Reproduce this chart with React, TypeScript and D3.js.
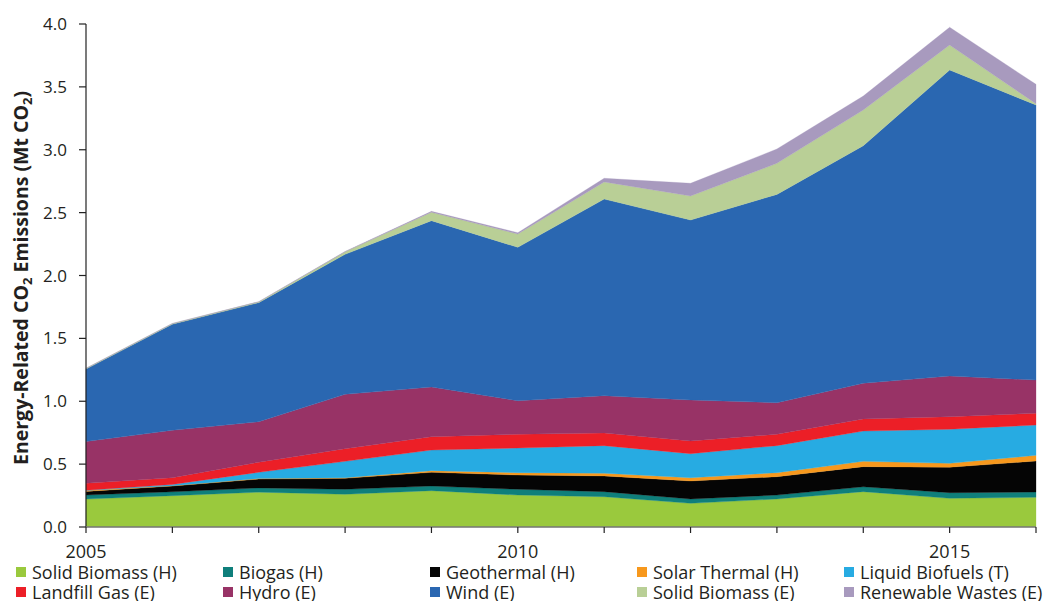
import React from "react";
import * as d3 from "d3";

const years = [2005, 2006, 2007, 2008, 2009, 2010, 2011, 2012, 2013, 2014, 2015, 2016];
const seriesNames = [
  "Solid Biomass (H)", "Biogas (H)", "Geothermal (H)", "Solar Thermal (H)", "Liquid Biofuels (T)",
  "Landfill Gas (E)", "Hydro (E)", "Wind (E)", "Solid Biomass (E)", "Renewable Wastes (E)",
];
const colors = ["#9AC93D", "#0F7F7B", "#050505", "#F7981D", "#27ABE2", "#EC1F27", "#983366", "#2A67B1", "#B9CF96", "#A89ABE"];

const solidBiomassH = [0.222, 0.249, 0.277, 0.26, 0.289, 0.254, 0.241, 0.188, 0.223, 0.281, 0.228, 0.236];
const biogasH = [0.032, 0.031, 0.034, 0.04, 0.037, 0.046, 0.04, 0.035, 0.031, 0.039, 0.045, 0.042];
const geothermalH = [0.029, 0.046, 0.07, 0.087, 0.109, 0.113, 0.125, 0.143, 0.146, 0.16, 0.202, 0.247];
const solarThermalH = [0.007, 0.002, 0.004, 0.005, 0.013, 0.019, 0.021, 0.026, 0.032, 0.042, 0.031, 0.045];
const liquidBiofuelsT = [0.003, 0.01, 0.05, 0.13, 0.164, 0.196, 0.22, 0.191, 0.215, 0.241, 0.271, 0.241];
const landfillGasE = [0.054, 0.054, 0.08, 0.101, 0.106, 0.109, 0.101, 0.101, 0.09, 0.096, 0.1, 0.093];
const hydroE = [0.333, 0.377, 0.322, 0.432, 0.395, 0.267, 0.296, 0.326, 0.251, 0.284, 0.323, 0.265];
const windE = [0.576, 0.843, 0.947, 1.113, 1.323, 1.22, 1.564, 1.431, 1.657, 1.889, 2.434, 2.187];
const solidBiomassE = [0.005, 0.005, 0.006, 0.02, 0.067, 0.106, 0.136, 0.191, 0.247, 0.284, 0.199, 0.01];
const renewableWastesE = [0.002, 0.002, 0.002, 0.003, 0.007, 0.01, 0.029, 0.101, 0.114, 0.111, 0.141, 0.154];

const seriesValues = [solidBiomassH, biogasH, geothermalH, solarThermalH, liquidBiofuelsT,
  landfillGasE, hydroE, windE, solidBiomassE, renewableWastesE];

const yTicks = [0, 0.5, 1.0, 1.5, 2.0, 2.5, 3.0, 3.5, 4.0];
const xLabelYears = [2005, 2010, 2015];

const FONT = "'Open Sans', sans-serif";

export default function App() {
  const left = 86, right = 1036, top = 24, bottom = 527;
  const x = d3.scaleLinear().domain([2005, 2016]).range([left, right]);
  const y = d3.scaleLinear().domain([0, 4]).range([bottom, top]);

  const rows = years.map((yr, i) => {
    const r: any = { year: yr };
    seriesNames.forEach((n, k) => (r[n] = seriesValues[k][i]));
    return r;
  });
  const stack = d3.stack().keys(seriesNames)(rows as any);
  const area = d3.area<any>()
    .x((d: any) => x(d.data.year))
    .y0((d: any) => y(d[0]))
    .y1((d: any) => y(d[1]));

  const legendCols = [16, 223, 430, 637, 844];
  const legendRows = [567, 587];

  return (
    <div style={{ position: "fixed", left: 0, top: 0 }}>
      <svg width={1046} height={601} style={{ display: "block", background: "#fff" }}>
        {stack.map((s, k) => (
          <path key={k} d={area(s as any) || ""} fill={colors[k]} stroke={colors[k]} strokeWidth={0.3} />
        ))}
        {/* y axis */}
        <line x1={left} x2={left} y1={top} y2={bottom} stroke="#222" strokeWidth={1.2} />
        {yTicks.map((t) => (
          <g key={t}>
            <line x1={left - 7} x2={left} y1={y(t)} y2={y(t)} stroke="#222" strokeWidth={1.2} />
            <text x={67} y={y(t)} dy="0.36em" textAnchor="end" fontFamily={FONT} fontSize={17} fill="#231f20">
              {t.toFixed(1)}
            </text>
          </g>
        ))}
        {/* x axis */}
        <line x1={left} x2={right} y1={bottom} y2={bottom} stroke="#777" strokeWidth={1.5} />
        {years.map((yr) => (
          <line key={yr} x1={x(yr)} x2={x(yr)} y1={bottom} y2={bottom + 6} stroke="#222" strokeWidth={1.2} />
        ))}
        {xLabelYears.map((yr) => (
          <text key={yr} x={x(yr)} y={558} textAnchor="middle" fontFamily={FONT} fontSize={18} fill="#231f20">
            {yr}
          </text>
        ))}
        {/* y title */}
        <text transform="translate(28,278) rotate(-90)" textAnchor="middle" fontFamily={FONT} fontWeight="bold" fontSize={19.5} fill="#231f20">
          Energy-Related CO<tspan fontSize={13} dy={4}>2</tspan><tspan dy={-4}> Emissions (Mt CO</tspan><tspan fontSize={13} dy={4}>2</tspan><tspan dy={-4}>)</tspan>
        </text>
        {/* legend */}
        {seriesNames.map((n, k) => {
          const col = k % 5, row = Math.floor(k / 5);
          return (
            <g key={n}>
              <rect x={legendCols[col]} y={legendRows[row]} width={10} height={10} fill={colors[k]} />
              <text x={legendCols[col] + 16} y={legendRows[row] + 11.5} fontFamily={FONT} fontSize={18} fill="#231f20">
                {n}
              </text>
            </g>
          );
        })}
      </svg>
    </div>
  );
}
